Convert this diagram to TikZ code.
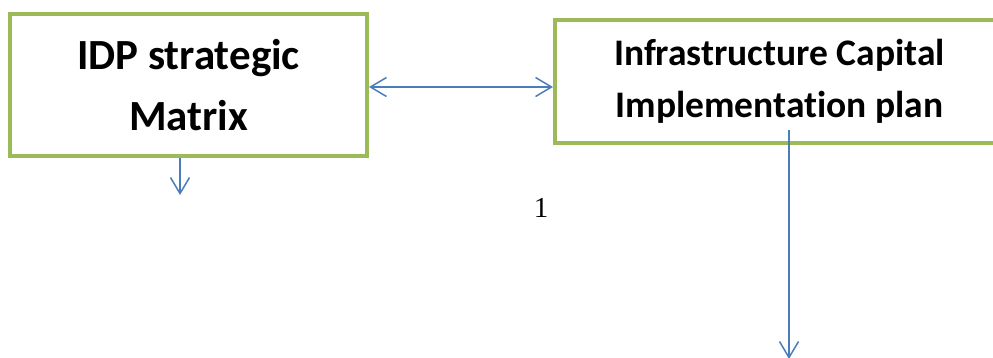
\documentclass[tikz,border=0pt]{standalone}
\usepackage{fontspec}
\setmainfont{Carlito}[Ligatures=NoCommon]
\newfontfamily\numfont{Liberation Serif}
\usetikzlibrary{arrows.meta}
\definecolor{boxgreen}{HTML}{9BBB59}
\definecolor{arrowblue}{HTML}{4A7EBB}
\tikzset{
  greenbox/.style={draw=boxgreen, line width=4pt, align=center, inner sep=0pt, font=\bfseries},
  conn/.style={draw=arrowblue, line width=1.5pt, -{Straight Barb[length=16pt,width=19pt,line width=1.5pt]}},
  bconn/.style={draw=arrowblue, line width=1.5pt, {Straight Barb[length=16pt,width=19pt,line width=1.5pt]}-{Straight Barb[length=16pt,width=19pt,line width=1.5pt]}}
}
\begin{document}
\begin{tikzpicture}[x=1pt,y=-1pt]
\clip (0,0) rectangle (993,358);
\node[greenbox, minimum width=357pt, minimum height=142pt, font=\bfseries\fontsize{43}{61}\selectfont] (box1) at (188.5,85) {IDP strategic\\Matrix};
\node[greenbox, minimum width=449pt, minimum height=123pt, font=\bfseries\fontsize{37.5}{52}\selectfont] (box2) at (779.5,81.5) {Infrastructure Capital\\Implementation plan};
\node[font=\numfont\fontsize{29}{29}\selectfont] (num) at (541,208) {1};
\coordinate (b1mid) at ([yshift=-2pt]box1.east);
\draw[bconn] (b1mid) -- (b1mid -| box2.west);
\coordinate (b1out) at ([xshift=-8.5pt]box1.south);
\draw[conn] (b1out) -- ++(0,37);
\coordinate (b2start) at ([xshift=9.5pt,yshift=15pt]box2.south);
\draw[conn] (b2start) -- ++(0,229);
\end{tikzpicture}
\end{document}
